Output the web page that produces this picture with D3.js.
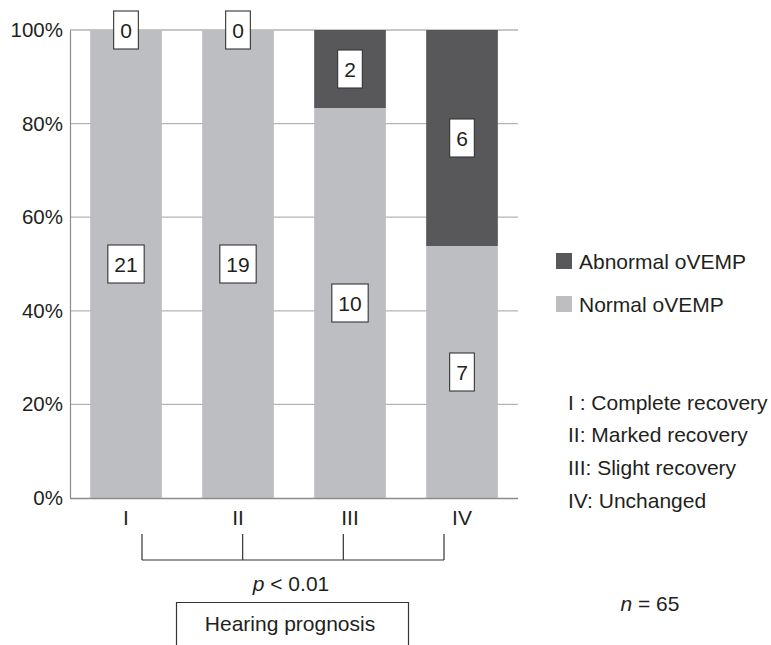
<!DOCTYPE html>
<html>
<head>
<meta charset="utf-8">
<script src="https://cdn.jsdelivr.net/npm/d3@7"></script>
<style>
  body { margin: 0; background: #fff; }
  svg text { font-family: "Liberation Sans", Arial, sans-serif; fill: #231f20; }
</style>
</head>
<body>
<svg id="chart" width="771" height="645"></svg>
<script>
// data
const categories = ["I", "II", "III", "IV"];
const normalCounts = [21, 19, 10, 7];
const abnormalCounts = [0, 0, 2, 6];
const yTicks = [0, 20, 40, 60, 80, 100];
const seriesNames = ["Abnormal oVEMP", "Normal oVEMP"];
const groupNotes = ["I : Complete recovery", "II: Marked recovery", "III: Slight recovery", "IV: Unchanged"];
const pText = "< 0.01";
const nText = "= 65";

const colors = { normal: "#bdbec1", abnormal: "#58585a", grid: "#b4b4b4", axis: "#8c8c8c", ink: "#231f20" };
const fs = 21;

const svg = d3.select("#chart");
const plotLeft = 70, plotRight = 518, plotTop = 30, plotBottom = 498;

const rows = categories.map((c, i) => {
  const tot = normalCounts[i] + abnormalCounts[i];
  return { cat: c, normal: normalCounts[i] / tot * 100, abnormal: abnormalCounts[i] / tot * 100,
           nN: normalCounts[i], nA: abnormalCounts[i] };
});

const x = d3.scaleBand().domain(categories).range([plotLeft, plotRight]).paddingInner(0.36).paddingOuter(0.18);
const y = d3.scaleLinear().domain([0, 100]).range([plotBottom, plotTop]);

// gridlines behind the bars
svg.append("g")
  .selectAll("line")
  .data(yTicks.filter(t => t > 0))
  .join("line")
    .attr("x1", plotLeft).attr("x2", plotRight)
    .attr("y1", d => y(d)).attr("y2", d => y(d))
    .attr("stroke", colors.grid).attr("stroke-width", 1.3);

const stack = d3.stack().keys(["normal", "abnormal"]);
const layers = stack(rows);

svg.append("g")
  .selectAll("g")
  .data(layers)
  .join("g")
    .attr("fill", d => colors[d.key])
  .selectAll("rect")
  .data(d => d)
  .join("rect")
    .attr("x", d => x(d.data.cat))
    .attr("width", x.bandwidth())
    .attr("y", d => y(d[1]))
    .attr("height", d => y(d[0]) - y(d[1]));

// axes
const yAxis = d3.axisLeft(y).tickValues(yTicks).tickFormat(d => d + "%").tickSize(0).tickPadding(7);
const gy = svg.append("g").attr("transform", `translate(${plotLeft},0)`).call(yAxis);
gy.select(".domain").attr("stroke", colors.axis).attr("stroke-width", 1.2);
gy.selectAll("text").style("font-size", "20.5px").attr("fill", colors.ink);

const xAxis = d3.axisBottom(x).tickSize(0).tickPadding(12);
const gx = svg.append("g").attr("transform", `translate(0,${plotBottom})`).call(xAxis);
gx.select(".domain").attr("d", `M${plotLeft},0.5H${plotRight}`).attr("stroke", colors.axis).attr("stroke-width", 1.4);
gx.selectAll("text").style("font-size", fs + "px").attr("fill", colors.ink);

// count labels in white boxes, centred on each segment
const labels = [];
layers.forEach(layer => layer.forEach(d => {
  labels.push({ cat: d.data.cat, mid: (d[0] + d[1]) / 2, n: layer.key === "normal" ? d.data.nN : d.data.nA });
}));

const lab = svg.append("g")
  .selectAll("g")
  .data(labels)
  .join("g")
    .attr("transform", d => `translate(${x(d.cat) + x.bandwidth() / 2},${y(d.mid)})`);
lab.append("rect");
lab.append("text")
  .attr("text-anchor", "middle")
  .attr("dy", "0.36em")
  .style("font-size", fs + "px")
  .text(d => d.n);
lab.each(function () {
  const g = d3.select(this);
  const w = g.select("text").node().getComputedTextLength() + 13;
  g.select("rect")
    .attr("x", -w / 2).attr("y", -19).attr("width", w).attr("height", 38)
    .attr("fill", "#fff").attr("stroke", "#333").attr("stroke-width", 1.1);
});

// bracket under the groups
const bx0 = x("I") + x.bandwidth() / 2 + 16, bx1 = x("IV") + x.bandwidth() / 2 - 18;
const bracketX = d3.scaleLinear().domain([0, categories.length - 1]).range([bx0, bx1]);
const bTop = 534, bBot = 560;
const br = svg.append("g").attr("stroke", "#333").attr("stroke-width", 1.2).attr("fill", "none");
br.append("line").attr("x1", bx0).attr("x2", bx1).attr("y1", bBot).attr("y2", bBot);
br.selectAll("line.t")
  .data(categories)
  .join("line")
    .attr("class", "t")
    .attr("x1", (d, i) => bracketX(i)).attr("x2", (d, i) => bracketX(i))
    .attr("y1", bTop).attr("y2", bBot);

const pt = svg.append("text")
  .attr("x", 291).attr("y", 583).attr("dy", "0.36em")
  .attr("text-anchor", "middle")
  .style("font-size", fs + "px");
pt.append("tspan").style("font-style", "italic").text("p");
pt.append("tspan").text(" " + pText);

svg.append("path")
  .attr("d", "M176.5,646V602.5H408.5V646")
  .attr("fill", "none").attr("stroke", "#333").attr("stroke-width", 1.2);
svg.append("text")
  .attr("x", 290).attr("y", 623).attr("dy", "0.36em")
  .attr("text-anchor", "middle")
  .style("font-size", fs + "px")
  .text("Hearing prognosis");

// legend
const legend = svg.append("g").attr("transform", "translate(556,253)");
const li = legend.selectAll("g")
  .data(seriesNames)
  .join("g")
    .attr("transform", (d, i) => `translate(0,${i * 43})`);
li.append("rect").attr("width", 16).attr("height", 16)
  .attr("fill", (d, i) => i === 0 ? colors.abnormal : colors.normal);
li.append("text").attr("x", 23).attr("y", 8).attr("dy", "0.36em")
  .style("font-size", fs + "px").text(d => d);

svg.append("g")
  .selectAll("text")
  .data(groupNotes)
  .join("text")
    .attr("x", 568)
    .attr("y", (d, i) => 402 + i * 32.7)
    .attr("dy", "0.36em")
    .style("font-size", fs + "px")
    .text(d => d);

const nt = svg.append("text")
  .attr("x", 650).attr("y", 603).attr("dy", "0.36em")
  .attr("text-anchor", "middle")
  .style("font-size", fs + "px");
nt.append("tspan").style("font-style", "italic").text("n");
nt.append("tspan").text(" " + nText);
</script>
</body>
</html>
